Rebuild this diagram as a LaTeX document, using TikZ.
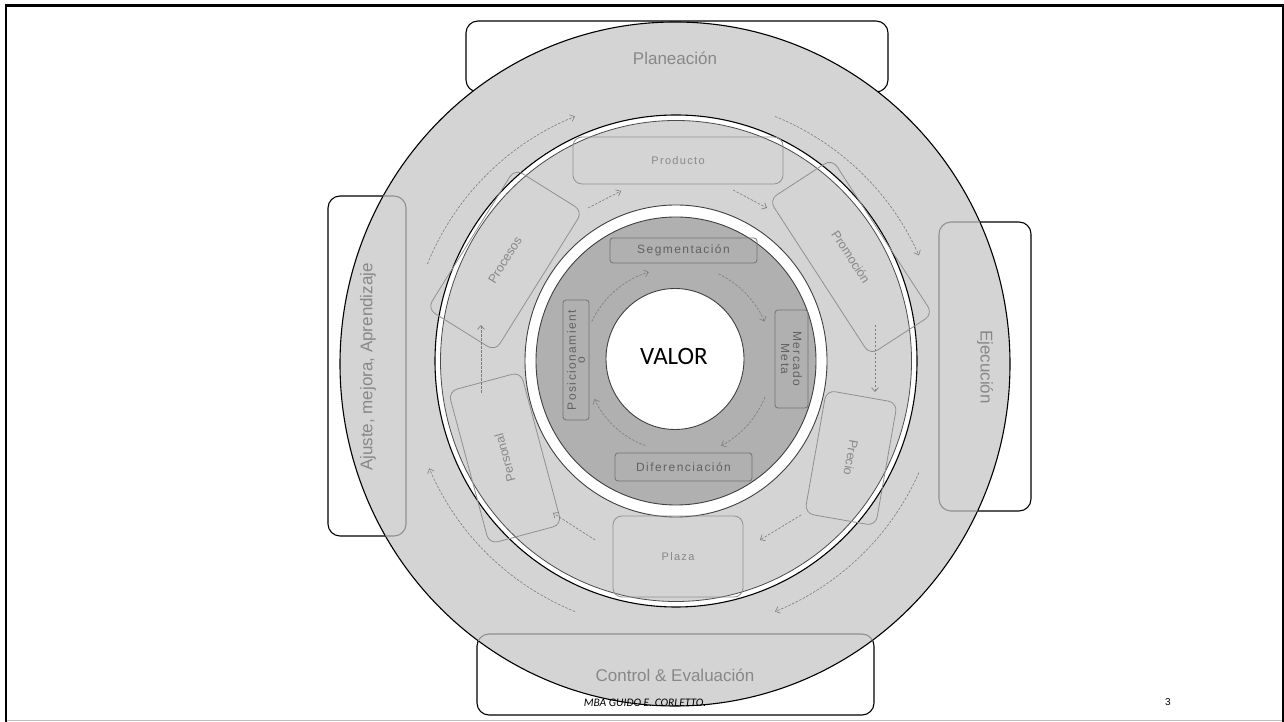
\documentclass[tikz,border=0pt]{standalone}
\usepackage{fontspec}
\setmainfont{Liberation Sans}
\newfontfamily\calib{Carlito}
\newfontfamily\spaced[LetterSpace=12]{Liberation Sans}
\usetikzlibrary{arrows.meta}
\definecolor{ringgray}{HTML}{D4D4D4}
\definecolor{diskgray}{HTML}{B0B0B0}
\definecolor{labelgray}{HTML}{888888}
\definecolor{edgegray}{HTML}{909090}
\definecolor{innertext}{HTML}{626262}
\definecolor{arrowgray}{HTML}{7C7C7C}
\begin{document}
\begin{tikzpicture}[x=1pt,y=1pt,
 outerbox/.style={draw=black, fill=white, line width=1.1pt, rounded corners=12pt, inner sep=0pt, outer sep=0pt},
 midbox/.style={draw=edgegray, line width=0.8pt, rounded corners=9pt, inner sep=0pt, outer sep=0pt},
 midlabel/.style={inner sep=1pt, text=labelgray, font=\spaced\fontsize{11}{13}\selectfont},
 midlabelr/.style={inner sep=1pt, text=labelgray, font=\fontsize{12.5}{14}\selectfont},
 innbox/.style={draw=black!55, line width=0.8pt, rounded corners=3pt, inner sep=0pt, outer sep=0pt},
 innlabel/.style={inner sep=1pt, text=innertext, font=\spaced\fontsize{12}{12}\selectfont, align=center},
 outlabel/.style={text=labelgray, font=\fontsize{17}{19}\selectfont},
 flow/.style={draw=arrowgray, line width=0.6pt, dash pattern=on 2.5pt off 1.5pt, -{Straight Barb[length=4pt,width=7pt]}},
]
\useasboundingbox (0,0) rectangle (1284,722);
\fill[white] (0,0) rectangle (1284,722);
% frame
\draw[gray!50, line width=1pt] (6,1.5) -- (1283,1.5);
\draw[line width=2.5pt] (6.2,0) -- (6.2,716.5) -- (1283,716.5) -- (1283,0);
% outer boxes (behind the ring)
\node[outerbox, minimum width=422, minimum height=71] (plan) at (677,665.5) {};
\node[outerbox, minimum width=78, minimum height=340] (ajus) at (367,356) {};
\node[outerbox, minimum width=92, minimum height=289] (ejec) at (985,355.5) {};
\node[outerbox, minimum width=397, minimum height=81] (ctrl) at (675.5,47.5) {};
% outer ring
\draw[fill=ringgray, line width=1.1pt] (675,358) ellipse [x radius=335, y radius=342];
\begin{scope}
\clip (675,358) ellipse [x radius=335, y radius=342];
\foreach \b in {ajus,ejec,ctrl}
  \draw[edgegray, line width=1.1pt, rounded corners=12pt] (\b.south west) rectangle (\b.north east);
\end{scope}
\node[outlabel] (planT) at (675,664) {Planeación};
\node[outlabel, rotate=90] (ajusT) at (368,355) {Ajuste, mejora, Aprendizaje};
\node[outlabel, rotate=-90] (ejecT) at (985,355) {Ejecución};
\node[outlabel] (ctrlT) at (675,47) {Control \& Evaluación};
% outer cycle arrows
\coordinate (O) at (675,358);
\draw[flow] ([shift={(158:267)}]O) arc[start angle=158, end angle=112, radius=267];
\draw[flow] ([shift={(68:267)}]O) arc[start angle=68, end angle=24, radius=267];
\draw[flow] ([shift={(-24:267)}]O) arc[start angle=-24, end angle=-68, radius=267];
\draw[flow] ([shift={(-112:267)}]O) arc[start angle=-112, end angle=-157, radius=267];
% middle ring
\draw[fill=white, line width=1.1pt] (676,361) ellipse [x radius=241, y radius=246];
\draw[fill=ringgray, draw=black!70, line width=0.8pt] (676,361) ellipse [x radius=235.5, y radius=240.5];
% inner ring and disk
\draw[fill=white, draw=black!75, line width=0.9pt] (676,361) ellipse [x radius=151, y radius=156];
\draw[fill=diskgray, draw=black!75, line width=0.9pt] (676,361) ellipse [x radius=140, y radius=144];
% value circle
\draw[fill=white, draw=black!75, line width=0.9pt] (675,363) ellipse [x radius=69, y radius=70.5];
\node (valor) at (674,366) {\calib\fontsize{25}{27}\selectfont VALOR};
% middle boxes
\node[midbox, minimum width=210, minimum height=47] (prod) at (678,561.5) {};
\node[midbox, minimum width=185, minimum height=75, rotate=-57] (prom) at (851,465) {};
\node[midbox, minimum width=125, minimum height=72, rotate=-100] (prec) at (851,264) {};
\node[midbox, minimum width=130, minimum height=81] (plaz) at (678,165.5) {};
\node[midbox, minimum width=158, minimum height=75, rotate=105] (pers) at (505,264) {};
\node[midbox, minimum width=165, minimum height=80, rotate=58] (proc) at (505,462) {};
\node[midlabel] (prodT) at (prod.center) {Producto};
\node[midlabelr, rotate=-57] (promT) at (prom.center) {Promoción};
\node[midlabelr, rotate=-100] (precT) at (prec.center) {Precio};
\node[midlabel] (plazT) at (plaz.center) {Plaza};
\node[midlabelr, rotate=105] (persT) at (pers.center) {Personal};
\node[midlabelr, rotate=58] (procT) at (proc.center) {Procesos};
% middle arrows
\coordinate (m1s) at (588,514); \coordinate (m1e) at (621,531);
\coordinate (m2s) at (733,532); \coordinate (m2e) at (767,514);
\coordinate (m3s) at (875,397); \coordinate (m3e) at (875,330);
\coordinate (m4s) at (801,207); \coordinate (m4e) at (760,182);
\coordinate (m5s) at (595,182); \coordinate (m5e) at (553,209);
\coordinate (m6s) at (481,329); \coordinate (m6e) at (481,397);
\draw[flow] (m1s) -- (m1e);
\draw[flow] (m2s) -- (m2e);
\draw[flow] (m3s) -- (m3e);
\draw[flow] (m4s) -- (m4e);
\draw[flow] (m5s) -- (m5e);
\draw[flow] (m6s) -- (m6e);
% inner boxes
\node[innbox, minimum width=147, minimum height=25] (segm) at (683.5,471.5) {};
\node[innbox, minimum width=98, minimum height=33, rotate=-90] (merc) at (791.5,363) {};
\node[innbox, minimum width=137, minimum height=28] (dife) at (683.5,255) {};
\node[innbox, minimum width=120, minimum height=26, rotate=90] (posi) at (576,362) {};
\node[innlabel] (segmT) at (segm.center) {Segmentación};
\node[innlabel, rotate=-90] (mercT) at (merc.center) {Mercado\\Meta};
\node[innlabel] (difeT) at (dife.center) {Diferenciación};
\node[innlabel, rotate=90] (posiT) at (posi.center) {Posicionamient\\[-3pt]o};
% inner cycle arrows
\coordinate (I) at (676,361);
\draw[flow] ([shift={(155:93)}]I) arc[start angle=155, end angle=107, radius=93];
\draw[flow] ([shift={(64:97)}]I) arc[start angle=64, end angle=24, radius=97];
\draw[flow] ([shift={(-22:96)}]I) arc[start angle=-22, end angle=-62, radius=96];
\draw[flow] ([shift={(-110:90)}]I) arc[start angle=-110, end angle=-155, radius=90];
% footer
\node[font=\calib\itshape\fontsize{11.5}{13}\selectfont] (foot) at (645,19) {MBA GUIDO E. CORLETTO.};
\node[font=\fontsize{10}{12}\selectfont] (page) at (1168,20) {3};
\end{tikzpicture}
\end{document}
